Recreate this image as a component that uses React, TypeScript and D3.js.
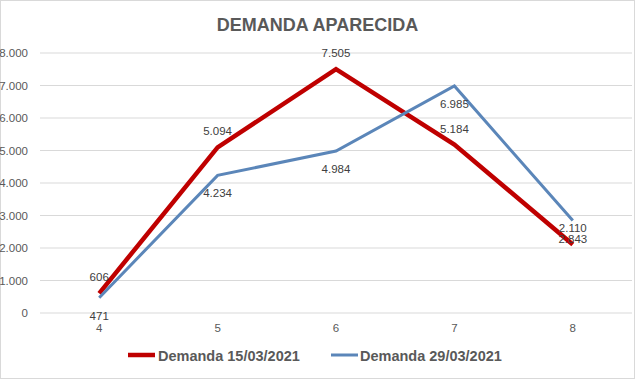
import React from "react";
import * as d3 from "d3";

const categories = ["4", "5", "6", "7", "8"];
const seriesNames = ["Demanda 15/03/2021", "Demanda 29/03/2021"];
const demanda1503 = [606, 5094, 7505, 5184, 2110];
const demanda2903 = [471, 4234, 4984, 6985, 2843];
const yTicks = [0, 1000, 2000, 3000, 4000, 5000, 6000, 7000, 8000];
const title = "DEMANDA APARECIDA";

const W = 635;
const H = 379;
const FONT = "'Liberation Sans', Arial, sans-serif";

const fmt = (v: number) =>
  v >= 1000 ? `${Math.floor(v / 1000)}.${String(v % 1000).padStart(3, "0")}` : String(v);

export default function App() {
  const x = d3.scaleBand<string>().domain(categories).range([40, 632]);
  const y = d3.scaleLinear().domain([0, 8000]).range([313, 53]);
  const cx = (c: string) => (x(c) ?? 0) + x.bandwidth() / 2;
  const line = d3
    .line<number>()
    .x((_, i) => cx(categories[i]))
    .y((d) => y(d));

  const series = [
    { name: seriesNames[0], values: demanda1503, color: "#BF0000", width: 4.5, dy: -16, lx: 128, tx: 158 },
    { name: seriesNames[1], values: demanda2903, color: "#5B86B9", width: 3, dy: 18, lx: 331, tx: 360 },
  ];

  return (
    <svg
      width={W}
      height={H}
      style={{ position: "absolute", left: 0, top: 0, background: "#fff" }}
      fontFamily={FONT}
    >
      <rect x={0.5} y={0.5} width={W - 1} height={H - 1} fill="#fff" stroke="#D9D9D9" />
      <text x={W / 2} y={31} textAnchor="middle" fontSize={18} fontWeight="bold" fill="#595959">
        {title}
      </text>
      {yTicks.map((t) => (
        <g key={t}>
          <line x1={40} x2={632} y1={y(t)} y2={y(t)} stroke="#D9D9D9" strokeWidth={1} />
          <text x={28} y={y(t) + 4} textAnchor="end" fontSize={11.5} fill="#595959">
            {fmt(t)}
          </text>
        </g>
      ))}
      {categories.map((c) => (
        <text key={c} x={cx(c)} y={332} textAnchor="middle" fontSize={11.5} fill="#595959">
          {c}
        </text>
      ))}
      {series.map((s) => (
        <path
          key={s.name}
          d={line(s.values) ?? ""}
          fill="none"
          stroke={s.color}
          strokeWidth={s.width}
          strokeLinejoin="miter"
        />
      ))}
      {series.map((s) =>
        s.values.map((v, i) => (
          <text
            key={s.name + i}
            x={cx(categories[i])}
            y={y(v) + s.dy + 4}
            textAnchor="middle"
            fontSize={11.5}
            fill="#404040"
          >
            {fmt(v)}
          </text>
        ))
      )}
      {series.map((s) => (
        <g key={"lg" + s.name}>
          <line x1={s.lx} x2={s.lx + 27} y1={355} y2={355} stroke={s.color} strokeWidth={s.width} />
          <text x={s.tx} y={360.5} fontSize={14.5} fontWeight="bold" fill="#595959">
            {s.name}
          </text>
        </g>
      ))}
    </svg>
  );
}
